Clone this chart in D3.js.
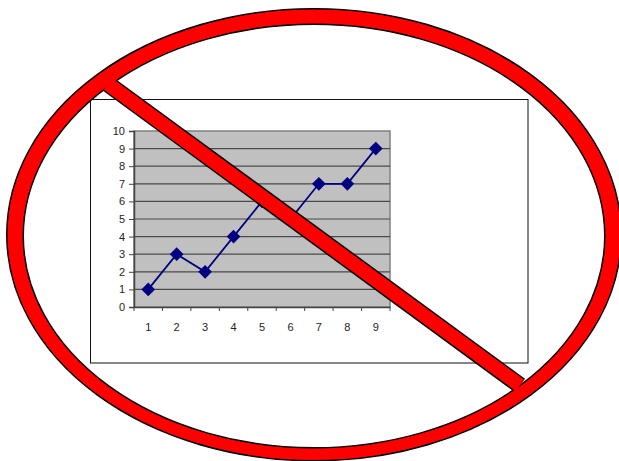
<!DOCTYPE html>
<html>
<head>
<meta charset="utf-8">
<script src="https://cdn.jsdelivr.net/npm/d3@7"></script>
<style>
html, body { margin: 0; padding: 0; background: #fff; }
svg { display: block; }
</style>
</head>
<body>
<svg id="chart" width="619" height="461"></svg>
<script>
// Line chart data
const categories = [1, 2, 3, 4, 5, 6, 7, 8, 9];
const values = [1, 3, 2, 4, 6, 5, 7, 7, 9];
const yTicks = [0, 1, 2, 3, 4, 5, 6, 7, 8, 9, 10];

const svg = d3.select("#chart");
const plot = { left: 134, right: 390, top: 131, bottom: 307 };

const x = d3.scaleBand().domain(categories).range([plot.left, plot.right]);
const y = d3.scaleLinear().domain([0, 10]).range([plot.bottom, plot.top]);

// Chart frame
svg.append("rect")
  .attr("x", 90.5).attr("y", 99.5)
  .attr("width", 437.5).attr("height", 263.5)
  .attr("fill", "#fff").attr("stroke", "#111").attr("stroke-width", 1);

// Plot background
svg.append("rect")
  .attr("x", plot.left).attr("y", plot.top)
  .attr("width", plot.right - plot.left).attr("height", plot.bottom - plot.top)
  .attr("fill", "#c0c0c0").attr("stroke", "#808080").attr("stroke-width", 1.5);

// Horizontal gridlines
svg.append("g").selectAll("line")
  .data(yTicks.slice(1, -1))
  .join("line")
  .attr("x1", plot.left).attr("x2", plot.right)
  .attr("y1", d => y(d)).attr("y2", d => y(d))
  .attr("stroke", "#4a4a4a").attr("stroke-width", 1.2);

// Axes
const yAxis = svg.append("g")
  .attr("transform", `translate(${plot.left},0)`)
  .call(d3.axisLeft(y).tickValues(yTicks).tickSize(5).tickPadding(4));

const xAxis = svg.append("g")
  .attr("transform", `translate(0,${plot.bottom})`)
  .call(d3.axisBottom(x).tickSize(0).tickPadding(16));

// Category ticks sit on the band edges, between the labels
xAxis.selectAll("line.edge")
  .data(categories.concat("end"))
  .join("line")
  .attr("class", "edge")
  .attr("x1", d => d === "end" ? plot.right : x(d))
  .attr("x2", d => d === "end" ? plot.right : x(d))
  .attr("y1", 0).attr("y2", 4)
  .attr("stroke", "#444").attr("stroke-width", 1);

for (const axis of [yAxis, xAxis]) {
  axis.select(".domain").attr("stroke", "#444").attr("stroke-width", 1.5);
  axis.selectAll(".tick line").attr("stroke", "#444");
  axis.selectAll("text")
    .attr("font-family", "'Liberation Sans', Arial, sans-serif")
    .attr("font-size", 11)
    .attr("fill", "#222")
    .attr("opacity", 0.99);
}

// Data line and diamond markers
const cx = d => x(d) + x.bandwidth() / 2;
const line = d3.line().x((d, i) => cx(categories[i])).y(d => y(d));

svg.append("path")
  .datum(values)
  .attr("d", line)
  .attr("fill", "none")
  .attr("stroke", "#000080")
  .attr("stroke-width", 1.8);

const diamond = d3.symbol().type(d3.symbolDiamond2).size(120);
svg.append("g").selectAll("path")
  .data(values)
  .join("path")
  .attr("d", diamond)
  .attr("transform", (d, i) => `translate(${cx(categories[i])},${y(d)})`)
  .attr("fill", "#000080");

// Prohibition sign. The ring's outer and inner edges are off-centre from each
// other, so it is a two-ellipse path rather than a stroked ellipse. Outlines go
// down first and the red goes over them, which merges ring and bar into one shape.
const outerEdge = { cx: 314, cy: 234.75, rx: 306.5, ry: 225.25 };
const innerEdge = { cx: 314, cy: 236, rx: 291.5, ry: 212.5 };
const bar = { x1: 108, y1: 84, x2: 520, y2: 385.5 };

const ellipsePath = e =>
  `M${e.cx - e.rx},${e.cy}A${e.rx},${e.ry} 0 1 0 ${e.cx + e.rx},${e.cy}` +
  `A${e.rx},${e.ry} 0 1 0 ${e.cx - e.rx},${e.cy}Z`;
const ringPath = ellipsePath(outerEdge) + ellipsePath(innerEdge);

const drawBar = (color, width) => svg.append("line")
  .attr("x1", bar.x1).attr("y1", bar.y1).attr("x2", bar.x2).attr("y2", bar.y2)
  .attr("stroke", color).attr("stroke-width", width);

svg.append("path").attr("d", ringPath)
  .attr("fill", "none").attr("stroke", "#000").attr("stroke-width", 3);
drawBar("#000", 17);
svg.append("path").attr("d", ringPath)
  .attr("fill", "#ff0000").attr("fill-rule", "evenodd");
drawBar("#ff0000", 14);
</script>
</body>
</html>
